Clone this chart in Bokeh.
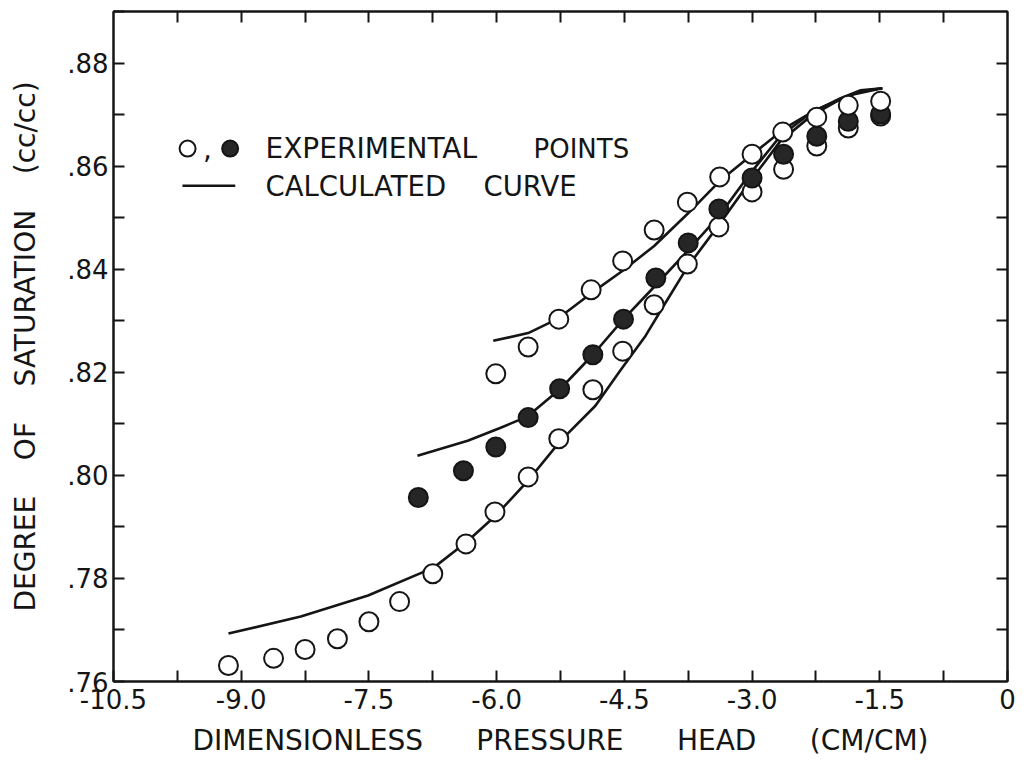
from bokeh.plotting import figure
from bokeh.models import LinearAxis, FixedTicker, Range1d, Label
from bokeh.embed import file_html
from bokeh.resources import INLINE

# ---------------- data ----------------
# open circles, lower series
open_low_x = [-9.15, -8.62, -8.25, -7.87, -7.50, -7.14, -6.75, -6.36, -6.02, -5.63, -5.27,
              -4.87, -4.52, -4.15, -3.76, -3.39, -3.00, -2.63, -2.24, -1.87, -1.49]
open_low_y = [0.7631, 0.7645, 0.7662, 0.7683, 0.7716, 0.7755, 0.7809, 0.7867, 0.7929, 0.7997, 0.8071,
              0.8166, 0.8241, 0.8331, 0.8410, 0.8482, 0.8550, 0.8594, 0.8639, 0.8674, 0.8697]
# open circles, upper series
open_up_x = [-6.01, -5.63, -5.27, -4.89, -4.52, -4.15, -3.76, -3.38, -3.00, -2.64, -2.24, -1.87, -1.49]
open_up_y = [0.8197, 0.8249, 0.8303, 0.8360, 0.8416, 0.8476, 0.8530, 0.8579, 0.8623, 0.8666,
             0.8695, 0.8718, 0.8726]
# filled circles, middle series
filled_x = [-6.92, -6.39, -6.01, -5.63, -5.26, -4.87, -4.51, -4.13, -3.75, -3.39, -3.00,
            -2.63, -2.24, -1.87, -1.49]
filled_y = [0.7957, 0.8009, 0.8055, 0.8112, 0.8168, 0.8234, 0.8303, 0.8383, 0.8451, 0.8517,
            0.8577, 0.8623, 0.8658, 0.8687, 0.8701]

# calculated curves
curve_up_x = [-6.04, -5.63, -5.29, -4.90, -4.52, -4.15, -3.76, -3.38, -2.98, -2.61, -2.24, -1.84, -1.47]
curve_up_y = [0.8261, 0.8276, 0.8303, 0.8352, 0.8397, 0.8445, 0.8507, 0.8571, 0.8625, 0.8674,
              0.8710, 0.8738, 0.8751]
curve_mid_x = [-6.93, -6.34, -5.96, -5.64, -5.25, -4.87, -4.51, -4.16, -3.76, -3.39, -3.02,
               -2.67, -2.31, -1.96, -1.73, -1.47]
curve_mid_y = [0.8038, 0.8067, 0.8092, 0.8114, 0.8168, 0.8234, 0.8303, 0.8364, 0.8435, 0.8503,
               0.8586, 0.8658, 0.8703, 0.8732, 0.8747, 0.8751]
curve_low_x = [-9.15, -8.30, -7.51, -6.74, -6.35, -6.01, -5.63, -5.25, -4.84, -4.55, -4.25,
               -4.02, -3.76, -3.39, -3.02, -2.67, -2.31, -1.96, -1.73, -1.47]
curve_low_y = [0.7693, 0.7726, 0.7767, 0.7821, 0.7871, 0.7922, 0.7990, 0.8067, 0.8135, 0.8203,
               0.8271, 0.8334, 0.8404, 0.8486, 0.8571, 0.8648, 0.8697, 0.8730, 0.8745, 0.8751]

# axes
x_ticks = [-10.5, -9.0, -7.5, -6.0, -4.5, -3.0, -1.5, 0.0]
x_tick_labels = ["-10.5", "-9.0", "-7.5", "-6.0", "-4.5", "-3.0", "-1.5", "0"]
x_minor = [-9.75, -8.25, -6.75, -5.25, -3.75, -2.25, -0.75]
y_ticks = [0.76, 0.78, 0.80, 0.82, 0.84, 0.86, 0.88]
y_tick_labels = [".76", ".78", ".80", ".82", ".84", ".86", ".88"]
y_minor = [0.77, 0.79, 0.81, 0.83, 0.85, 0.87, 0.89]

x_title_words = ["DIMENSIONLESS", "PRESSURE", "HEAD", "(CM/CM)"]
y_title_words = ["DEGREE", "OF", "SATURATION", "(cc/cc)"]
legend_words_1 = ["EXPERIMENTAL", "POINTS"]
legend_words_2 = ["CALCULATED", "CURVE"]

FONT = "DejaVu Sans"
INK = "#151515"
GAP_X = " \u00a0 \u00a0 \u00a0"   # wide hand-lettered word spacing (kept from collapsing)
GAP_Y = " \u00a0 \u00a0"

p = figure(width=1020, height=763, x_range=Range1d(-10.5, 0), y_range=Range1d(0.76, 0.89),
           output_backend="svg", toolbar_location=None,
           min_border_left=113, min_border_right=13, min_border_top=11, min_border_bottom=82)
p.grid.visible = False
p.outline_line_color = INK
p.outline_line_width = 2
p.background_fill_color = "white"
p.border_fill_color = "white"


def style_axis(ax, major, minor, labels):
    ax.ticker = FixedTicker(ticks=major, minor_ticks=minor)
    ax.axis_line_color = INK
    ax.axis_line_width = 2
    ax.major_tick_in = 11
    ax.major_tick_out = 0
    ax.minor_tick_in = 11
    ax.minor_tick_out = 0
    ax.major_tick_line_color = INK
    ax.minor_tick_line_color = INK
    ax.major_tick_line_width = 2
    ax.minor_tick_line_width = 2
    if labels:
        ax.major_label_overrides = dict(zip(major, labels))
        ax.major_label_text_font = FONT
        ax.major_label_text_font_size = "26px"
        ax.major_label_text_color = INK


xax = p.xaxis[0]
style_axis(xax, x_ticks, x_minor, x_tick_labels)
xax.major_label_standoff = 7
xax.axis_label = GAP_X.join(x_title_words)
xax.axis_label_text_font = FONT
xax.axis_label_text_font_size = "28px"
xax.axis_label_text_font_style = "normal"
xax.axis_label_text_color = INK
xax.axis_label_standoff = 12

yax = p.yaxis[0]
style_axis(yax, y_ticks, y_minor, y_tick_labels)
yax.major_label_standoff = 5
yax.axis_label = GAP_Y.join(y_title_words)
yax.axis_label_text_font = FONT
yax.axis_label_text_font_size = "28px"
yax.axis_label_text_font_style = "normal"
yax.axis_label_text_color = INK
yax.axis_label_standoff = 22

# top and right: ticks only (all as minor ticks, so no labels are produced)
top = LinearAxis()
style_axis(top, [], x_ticks[1:-1] + x_minor, None)
p.add_layout(top, "above")
right = LinearAxis()
style_axis(right, [], y_ticks[1:] + y_minor[:-1], None)
p.add_layout(right, "right")

# calculated curves
for cx, cy in [(curve_up_x, curve_up_y), (curve_mid_x, curve_mid_y), (curve_low_x, curve_low_y)]:
    p.line(cx, cy, line_color=INK, line_width=2.6)

# experimental points
p.scatter(open_low_x, open_low_y, marker="circle", size=19, fill_color="white",
          line_color=INK, line_width=2)
p.scatter(filled_x, filled_y, marker="circle", size=19, fill_color="#262626",
          line_color=INK, line_width=2)
p.scatter(open_up_x, open_up_y, marker="circle", size=19, fill_color="white",
          line_color=INK, line_width=2)

# legend (hand-lettered style, no box)
leg_y1, leg_y2 = 0.8634, 0.8562
p.scatter([-9.63], [leg_y1], marker="circle", size=16, fill_color="white", line_color=INK, line_width=2)
p.scatter([-9.13], [leg_y1], marker="circle", size=16, fill_color="#262626", line_color=INK, line_width=2)
p.add_layout(Label(x=-9.45, y=leg_y1, text=",", text_font=FONT, text_font_size="28px",
                   text_color=INK, text_align="left", text_baseline="middle"))
p.line([-9.69, -9.07], [leg_y2, leg_y2], line_color=INK, line_width=2.6)
for word, lx, fs in zip(legend_words_1, [-8.715, -5.567], ["28px", "26px"]):
    p.add_layout(Label(x=lx, y=leg_y1, text=word, text_font=FONT, text_font_size=fs,
                       text_color=INK, text_align="left", text_baseline="middle"))
for word, lx in zip(legend_words_2, [-8.715, -6.154]):
    p.add_layout(Label(x=lx, y=leg_y2, text=word, text_font=FONT, text_font_size="27.5px",
                       text_color=INK, text_align="left", text_baseline="middle"))

open("out.html", "w").write(file_html(p, INLINE))
